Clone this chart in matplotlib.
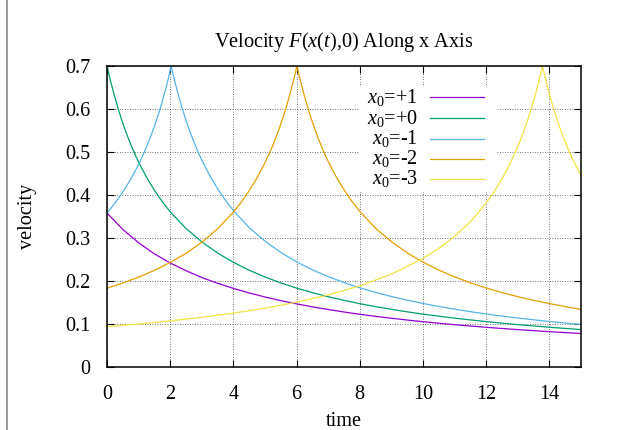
import matplotlib
matplotlib.use("Agg")
import matplotlib.pyplot as plt
from matplotlib.patches import Rectangle
from matplotlib.lines import Line2D

plt.rcParams['font.family'] = ['Liberation Serif', 'DejaVu Serif']
plt.rcParams['mathtext.fontset'] = 'custom'
plt.rcParams['mathtext.rm'] = 'Liberation Serif'
plt.rcParams['mathtext.it'] = 'Liberation Serif:italic'

# ---- data ----
labels = [r"$x_0$=+1", r"$x_0$=+0", r"$x_0$=-1", r"$x_0$=-2", r"$x_0$=-3"]
colors = ["#9400d3", "#009e73", "#56b4e9", "#e69f00", "#f0e442"]

t_p1 = [0, 0.5, 1, 1.5, 2, 2.5, 3, 3.5, 4, 4.5, 5, 5.5, 6, 6.5, 7, 7.5, 8, 8.5,
        9, 9.5, 10, 10.5, 11, 11.5, 12, 12.5, 13, 13.5, 14, 14.5, 15]
v_p1 = [0.358, 0.320, 0.289, 0.263, 0.242, 0.224, 0.208, 0.1947, 0.1828, 0.1722,
        0.1628, 0.1544, 0.1468, 0.1399, 0.1337, 0.1279, 0.1227, 0.1178, 0.1134,
        0.1092, 0.1054, 0.1018, 0.0984, 0.0953, 0.0923, 0.0896, 0.0869, 0.0845,
        0.0822, 0.0800, 0.0779]

t_p0 = [0, 0.125, 0.25, 0.375, 0.5, 0.625, 0.75, 0.875, 1, 1.25, 1.5, 1.75, 2,
        2.5, 3, 3.5, 4, 4.5, 5, 5.5, 6, 6.5, 7, 7.5, 8, 8.5, 9, 9.5, 10, 10.5,
        11, 11.5, 12, 12.5, 13, 13.5, 14, 14.5, 15]
v_p0 = [0.700, 0.6612, 0.627, 0.5953, 0.567, 0.5413, 0.518, 0.4963, 0.4765,
        0.4414, 0.411, 0.3844, 0.361, 0.322, 0.291, 0.265, 0.2434, 0.225,
        0.2093, 0.1956, 0.1835, 0.1729, 0.1634, 0.155, 0.1473, 0.1404, 0.1341,
        0.1283, 0.1230, 0.1182, 0.1137, 0.1095, 0.1056, 0.1020, 0.0986, 0.0955,
        0.0925, 0.0897, 0.0871]

t_m1 = [0, 0.125, 0.25, 0.375, 0.5, 0.625, 0.75, 0.875, 1, 1.125, 1.25, 1.375,
        1.5, 1.625, 1.75, 1.875, 1.95, 2.03, 2.09, 2.155, 2.28, 2.405, 2.53,
        2.655, 2.78, 2.905, 3.03, 3.28, 3.53, 3.78, 4.03, 4.53, 5.03, 5.53,
        6.03, 6.53, 7.03, 7.53, 8.03, 8.53, 9.03, 9.53, 10.03, 10.53, 11.03,
        11.53, 12.03, 12.53, 13.03, 13.53, 14.03, 14.53, 15.03]
v_m1 = [0.358, 0.3693, 0.381, 0.3937, 0.407, 0.4215, 0.437, 0.4535, 0.471,
        0.4907, 0.512, 0.5347, 0.560, 0.5873, 0.618, 0.6514, 0.6735, 0.700,
        0.6809, 0.6612, 0.627, 0.5953, 0.567, 0.5413, 0.518, 0.4963, 0.4765,
        0.4414, 0.411, 0.3844, 0.361, 0.322, 0.291, 0.265, 0.2434, 0.225,
        0.2093, 0.1956, 0.1835, 0.1729, 0.1634, 0.155, 0.1473, 0.1404, 0.1341,
        0.1283, 0.1230, 0.1182, 0.1137, 0.1095, 0.1056, 0.1020, 0.0986]

t_m2 = [0, 0.5, 1, 1.5, 2, 2.5, 3, 3.5, 4, 4.25, 4.5, 4.75, 5, 5.125, 5.25,
        5.375, 5.5, 5.625, 5.75, 5.875, 5.95, 6.01, 6.07, 6.135, 6.26, 6.385,
        6.51, 6.635, 6.76, 6.885, 7.01, 7.26, 7.51, 7.76, 8.01, 8.51, 9.01,
        9.51, 10.01, 10.51, 11.01, 11.51, 12.01, 12.51, 13.01, 13.51, 14.01,
        14.51, 15.01]
v_m2 = [0.1833, 0.1953, 0.209, 0.2247, 0.243, 0.2645, 0.290, 0.3215, 0.360,
        0.3834, 0.410, 0.4399, 0.475, 0.4946, 0.516, 0.5393, 0.565, 0.5928,
        0.624, 0.6581, 0.6807, 0.700, 0.6809, 0.6612, 0.627, 0.5953, 0.567,
        0.5413, 0.518, 0.4963, 0.4765, 0.4414, 0.411, 0.3844, 0.361, 0.322,
        0.291, 0.265, 0.2434, 0.225, 0.2093, 0.1956, 0.1835, 0.1729, 0.1634,
        0.155, 0.1473, 0.1404, 0.1341]

t_m3 = [0, 1, 2, 3, 4, 5, 6, 7, 8, 9, 10, 10.5, 11, 11.5, 11.75, 12, 12.25,
        12.5, 12.75, 13, 13.125, 13.25, 13.375, 13.5, 13.625, 13.72, 13.78,
        13.84, 13.905, 14.03, 14.155, 14.28, 14.405, 14.53, 14.655, 14.78,
        15.03, 15.28]
v_m3 = [0.0938, 0.1001, 0.1073, 0.1156, 0.1253, 0.1368, 0.1506, 0.1675, 0.1886,
        0.2159, 0.2524, 0.2758, 0.3038, 0.3382, 0.3586, 0.3815, 0.4075, 0.4374,
        0.4720, 0.5124, 0.5354, 0.5606, 0.5882, 0.6187, 0.6524, 0.6807, 0.700,
        0.6809, 0.6612, 0.627, 0.5953, 0.567, 0.5413, 0.518, 0.4963, 0.4765,
        0.4414, 0.411]

series_t = [t_p1, t_p0, t_m1, t_m2, t_m3]
series_v = [v_p1, v_p0, v_m1, v_m2, v_m3]

x_ticks = [0, 2, 4, 6, 8, 10, 12, 14]
y_ticks = [0, 0.1, 0.2, 0.3, 0.4, 0.5, 0.6, 0.7]
y_ticklabels = ["0", "0.1", "0.2", "0.3", "0.4", "0.5", "0.6", "0.7"]

# ---- figure ----
W, H = 622, 430
fig = plt.figure(figsize=(W / 100, H / 100), dpi=100)
L, R, T, B = 107, 581, 66, 367
ax = fig.add_axes([L / W, 1 - B / H, (R - L) / W, (B - T) / H])

FS = 14.6
for tt, vv, c in zip(series_t, series_v, colors):
    ax.plot(tt, vv, color=c, lw=0.9, zorder=3)

ax.set_xlim(0, 15)
ax.set_ylim(0, 0.7)
ax.set_xticks(x_ticks)
ax.set_xticklabels([str(v) for v in x_ticks], fontsize=FS)
ax.set_yticks(y_ticks)
ax.set_yticklabels(y_ticklabels, fontsize=FS)
ax.tick_params(direction='in', top=True, right=True, length=5, width=0.8)
ax.tick_params(axis='x', pad=13)
ax.tick_params(axis='y', pad=12)
ax.grid(True, color='#444444', linestyle=(0, (1, 2)), lw=0.6, zorder=1)
ax.set_axisbelow(True)
for s in ax.spines.values():
    s.set_linewidth(1.1)
    s.set_zorder(5)

ax.set_xlabel("time", fontsize=FS, labelpad=6)
ax.set_ylabel("velocity", fontsize=FS, labelpad=20)
ax.set_title(r"Velocity $F$($x$($t$),0) Along x Axis", fontsize=FS, pad=14)

# key (white box, right-aligned labels, samples on the right)
ax.add_patch(Rectangle((0.534, 0.581), 0.289, 0.349, transform=ax.transAxes,
                       facecolor='white', edgecolor='none', zorder=2))
row_y = [0.896, 0.826, 0.759, 0.692, 0.625]
for lab, c, yy in zip(labels, colors, row_y):
    ax.text(0.656, yy, lab, transform=ax.transAxes, ha='right', va='center',
            fontsize=FS, zorder=4)
    ax.add_line(Line2D([0.681, 0.795], [yy, yy], transform=ax.transAxes,
                       color=c, lw=0.9, zorder=4))

# thin gray vertical rule at the left edge
fig.add_artist(Line2D([6.5 / W, 6.5 / W], [0, 1], transform=fig.transFigure,
                      color='#888888', lw=1.2))

fig.savefig("out.png", dpi=100)
